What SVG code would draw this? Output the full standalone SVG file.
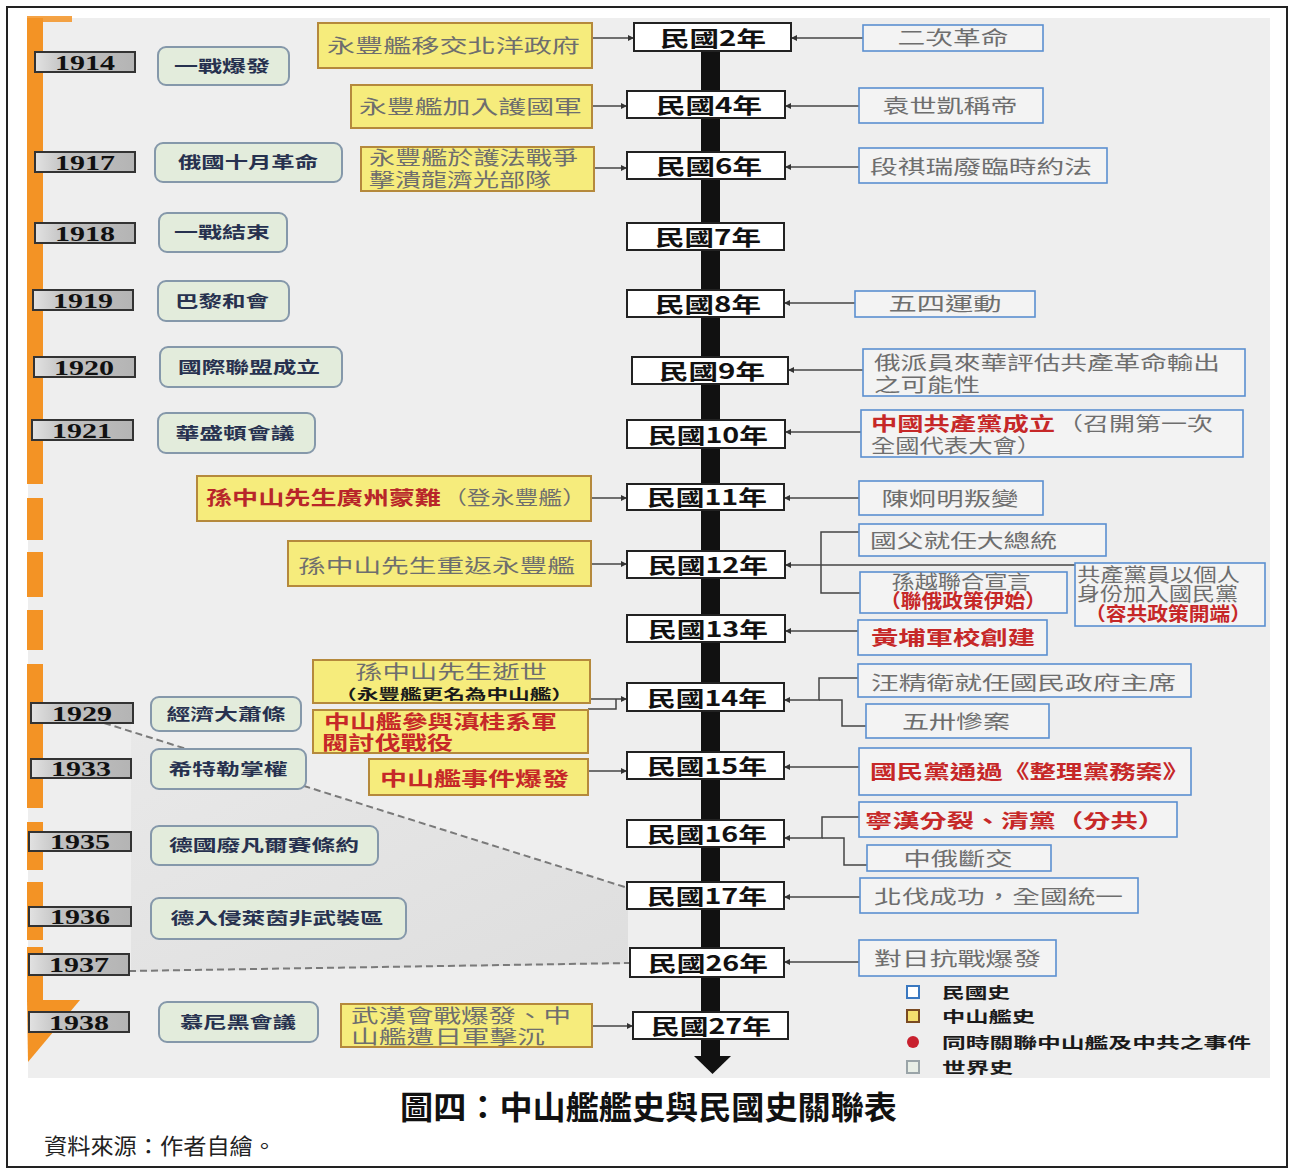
<svg xmlns="http://www.w3.org/2000/svg" width="1292" height="1170" viewBox="0 0 1292 1170">
<style>
.cjk{font-family:"Noto Sans CJK TC","Noto Sans CJK SC",sans-serif}
.yr{fill:url(#yg);stroke:#333;stroke-width:2}
.yrt{font-family:"Liberation Serif",serif;font-weight:bold;font-size:21px;fill:#111;text-anchor:middle}
.wb{fill:#e3ecdc;stroke:#8598aa;stroke-width:2}
.wt{font-family:"Noto Sans CJK TC","Noto Sans CJK SC",sans-serif;font-weight:bold;font-size:16px;fill:#27314f;text-anchor:middle}
.yb{fill:#f6ec7c;stroke:#b5893c;stroke-width:2}
.rb{fill:#f3f3f3;stroke:#5b8fd0;stroke-width:1.6}
.mb{fill:#fff;stroke:#222;stroke-width:2}
.mt{font-family:"Noto Sans CJK TC","Noto Sans CJK SC",sans-serif;font-weight:bold;font-size:21px;fill:#111;text-anchor:middle}
.t{font-family:"Noto Sans CJK TC","Noto Sans CJK SC",sans-serif;font-size:19px;fill:#6e6e6e}
.r{font-family:"Noto Sans CJK TC","Noto Sans CJK SC",sans-serif;font-size:19px;font-weight:bold;fill:#c62828}
.k{font-family:"Noto Sans CJK TC","Noto Sans CJK SC",sans-serif;font-weight:bold;fill:#1a1a1a}
.cn{stroke:#444;stroke-width:1.5;fill:none}
.ar{marker-end:url(#ah)}
.dash{stroke:#7a7a7a;stroke-width:2;stroke-dasharray:7 4;fill:none}
.or{fill:#f39325}
</style>
<defs>
<linearGradient id="yg" x1="0" y1="0" x2="1" y2="0">
<stop offset="0" stop-color="#e2e2e2"/><stop offset="0.3" stop-color="#c2c2c2"/><stop offset="1" stop-color="#b4b4b4"/>
</linearGradient>
<linearGradient id="sg" x1="0" y1="0" x2="1" y2="1">
<stop offset="0" stop-color="#e9e9e9"/><stop offset="1" stop-color="#dedede"/>
</linearGradient>
<marker id="ah" viewBox="0 0 6 6" refX="6" refY="3" markerWidth="6" markerHeight="6" markerUnits="userSpaceOnUse" orient="auto">
<path d="M0,0 L6,3 L0,6 z" fill="#333"/>
</marker>
</defs>

<rect x="0" y="0" width="1292" height="1170" fill="#fff"/>
<rect x="7" y="7" width="1280" height="1160" fill="none" stroke="#222" stroke-width="2"/>
<rect x="28" y="18" width="1242" height="1060" fill="#eeeeee"/>

<g id="shade">
<path d="M104,723 L628,888 L628,964 L131,972 L131,723 Z" fill="url(#sg)"/>
</g>

<g id="orange-timeline">
<rect class="or" x="27" y="16" width="45" height="6" opacity="0.85"/>
<rect class="or" x="27" y="18" width="16" height="466"/>
<rect class="or" x="27" y="498" width="16" height="42"/>
<rect class="or" x="27" y="552" width="16" height="45"/>
<rect class="or" x="27" y="610" width="16" height="40"/>
<rect class="or" x="27" y="664" width="16" height="144"/>
<rect class="or" x="27" y="822" width="16" height="48"/>
<rect class="or" x="27" y="882" width="16" height="58"/>
<rect class="or" x="27" y="947" width="16" height="55"/>
<polygon class="or" points="27,1000 80,1000 28,1062"/>
</g>

<g id="main-axis">
<rect x="701" y="40" width="19" height="1018" fill="#111"/>
<polygon points="694,1056 731,1056 712.5,1074" fill="#111"/>
</g>

<g id="connectors">
<path class="dash" d="M104,723 L628,888"/>
<path class="dash" d="M129,971 L630,963"/>
<path class="cn ar" d="M592,38 H634"/>
<path class="cn ar" d="M592,106 H627"/>
<path class="cn ar" d="M594,168 H627"/>
<path class="cn ar" d="M591,498 H627"/>
<path class="cn ar" d="M591,564 H627"/>
<path class="cn ar" d="M590,699 H627"/>
<path class="cn" d="M588,709 H616 V699"/>
<path class="cn ar" d="M588,771 H627"/>
<path class="cn ar" d="M592,1026 H633"/>
<path class="cn ar" d="M863,38 H791"/>
<path class="cn ar" d="M859,106 H785"/>
<path class="cn ar" d="M859,167 H785"/>
<path class="cn ar" d="M855,303 H784"/>
<path class="cn ar" d="M863,370 H788"/>
<path class="cn ar" d="M861,432 H785"/>
<path class="cn ar" d="M859,498 H784"/>
<path class="cn ar" d="M1075,565 H785"/>
<path class="cn" d="M859,532 H821 V593 H860"/>
<path class="cn ar" d="M858,631 H785"/>
<path class="cn ar" d="M858,678 H819 V700 H784"/>
<path class="cn" d="M866,726 H842 V700 H819"/>
<path class="cn ar" d="M859,767 H784"/>
<path class="cn ar" d="M859,817 H822 V838 H784"/>
<path class="cn" d="M867,865 H844 V838 H822"/>
<path class="cn ar" d="M860,897 H784"/>
<path class="cn ar" d="M859,962 H784"/>
</g>

<g id="y1914"><rect class="yr" x="35" y="52" width="100" height="20"/><text class="yrt" x="85" y="70" textLength="60" lengthAdjust="spacingAndGlyphs">1914</text></g>
<g id="y1917"><rect class="yr" x="35" y="152" width="100" height="20"/><text class="yrt" x="85" y="170" textLength="60" lengthAdjust="spacingAndGlyphs">1917</text></g>
<g id="y1918"><rect class="yr" x="35" y="223" width="100" height="20"/><text class="yrt" x="85" y="241" textLength="60" lengthAdjust="spacingAndGlyphs">1918</text></g>
<g id="y1919"><rect class="yr" x="33" y="290" width="100" height="20"/><text class="yrt" x="83" y="308" textLength="60" lengthAdjust="spacingAndGlyphs">1919</text></g>
<g id="y1920"><rect class="yr" x="34" y="357" width="101" height="20"/><text class="yrt" x="84" y="375" textLength="60" lengthAdjust="spacingAndGlyphs">1920</text></g>
<g id="y1921"><rect class="yr" x="32" y="420" width="101" height="20"/><text class="yrt" x="82" y="438" textLength="60" lengthAdjust="spacingAndGlyphs">1921</text></g>
<g id="y1929"><rect class="yr" x="31" y="703" width="102" height="20"/><text class="yrt" x="82" y="721" textLength="60" lengthAdjust="spacingAndGlyphs">1929</text></g>
<g id="y1933"><rect class="yr" x="31" y="759" width="100" height="19"/><text class="yrt" x="81" y="776" textLength="60" lengthAdjust="spacingAndGlyphs">1933</text></g>
<g id="y1935"><rect class="yr" x="29" y="832" width="102" height="19"/><text class="yrt" x="80" y="849" textLength="60" lengthAdjust="spacingAndGlyphs">1935</text></g>
<g id="y1936"><rect class="yr" x="29" y="907" width="102" height="19"/><text class="yrt" x="80" y="924" textLength="60" lengthAdjust="spacingAndGlyphs">1936</text></g>
<g id="y1937"><rect class="yr" x="29" y="954" width="100" height="21"/><text class="yrt" x="79" y="972" textLength="60" lengthAdjust="spacingAndGlyphs">1937</text></g>
<g id="y1938"><rect class="yr" x="29" y="1012" width="100" height="20"/><text class="yrt" x="79" y="1030" textLength="60" lengthAdjust="spacingAndGlyphs">1938</text></g>

<g id="w1"><rect class="wb" x="158" y="47" width="131" height="38" rx="8"/><text class="wt" x="222" y="72" textLength="96" lengthAdjust="spacingAndGlyphs">一戰爆發</text></g>
<g id="w2"><rect class="wb" x="155" y="143" width="187" height="39" rx="8"/><text class="wt" x="248" y="168" textLength="140" lengthAdjust="spacingAndGlyphs">俄國十月革命</text></g>
<g id="w3"><rect class="wb" x="159" y="213" width="128" height="39" rx="8"/><text class="wt" x="222" y="238" textLength="96" lengthAdjust="spacingAndGlyphs">一戰結束</text></g>
<g id="w4"><rect class="wb" x="158" y="281" width="131" height="40" rx="8"/><text class="wt" x="222" y="307" textLength="94" lengthAdjust="spacingAndGlyphs">巴黎和會</text></g>
<g id="w5"><rect class="wb" x="160" y="347" width="182" height="40" rx="8"/><text class="wt" x="249" y="373" textLength="142" lengthAdjust="spacingAndGlyphs">國際聯盟成立</text></g>
<g id="w6"><rect class="wb" x="158" y="413" width="157" height="40" rx="8"/><text class="wt" x="235" y="439" textLength="119" lengthAdjust="spacingAndGlyphs">華盛頓會議</text></g>
<g id="w7"><rect class="wb" x="151" y="697" width="150" height="34" rx="8"/><text class="wt" x="226" y="720" textLength="119" lengthAdjust="spacingAndGlyphs">經濟大蕭條</text></g>
<g id="w8"><rect class="wb" x="151" y="749" width="155" height="40" rx="8"/><text class="wt" x="228" y="775" textLength="119" lengthAdjust="spacingAndGlyphs">希特勒掌權</text></g>
<g id="w9"><rect class="wb" x="151" y="826" width="227" height="39" rx="8"/><text class="wt" x="264" y="851" textLength="190" lengthAdjust="spacingAndGlyphs">德國廢凡爾賽條約</text></g>
<g id="w10"><rect class="wb" x="151" y="898" width="255" height="41" rx="8"/><text class="wt" x="277" y="924" textLength="213" lengthAdjust="spacingAndGlyphs">德入侵萊茵非武裝區</text></g>
<g id="w11"><rect class="wb" x="159" y="1002" width="159" height="40" rx="8"/><text class="wt" x="238" y="1028" textLength="116" lengthAdjust="spacingAndGlyphs">慕尼黑會議</text></g>

<g id="s1"><rect class="yb" x="318" y="23" width="274" height="45"/><text class="t" x="327" y="53" font-size="20" textLength="253" lengthAdjust="spacingAndGlyphs">永豐艦移交北洋政府</text></g>
<g id="s2"><rect class="yb" x="351" y="85" width="241" height="43"/><text class="t" x="359" y="114" font-size="20" textLength="223" lengthAdjust="spacingAndGlyphs">永豐艦加入護國軍</text></g>
<g id="s3"><rect class="yb" x="361" y="147" width="233" height="44"/><text class="t" x="369" y="165" font-size="17" textLength="209" lengthAdjust="spacingAndGlyphs">永豐艦於護法戰爭</text><text class="t" x="369" y="187" font-size="17" textLength="182" lengthAdjust="spacingAndGlyphs">擊潰龍濟光部隊</text></g>
<g id="s4"><rect class="yb" x="197" y="476" width="394" height="45"/><text class="r" x="206" y="505" textLength="235" lengthAdjust="spacingAndGlyphs" style="fill:#b8262a">孫中山先生廣州蒙難</text><text class="t" x="443" y="505" textLength="143" lengthAdjust="spacingAndGlyphs">（登永豐艦）</text></g>
<g id="s5"><rect class="yb" x="288" y="541" width="303" height="45"/><text class="t" x="298" y="573" font-size="21" textLength="277" lengthAdjust="spacingAndGlyphs">孫中山先生重返永豐艦</text></g>
<g id="s6"><rect class="yb" x="313" y="660" width="277" height="43"/><text class="t" x="451" y="679" font-size="16" text-anchor="middle" textLength="192" lengthAdjust="spacingAndGlyphs">孫中山先生逝世</text><text class="k" x="454" y="699" font-size="14" text-anchor="middle" textLength="238" lengthAdjust="spacingAndGlyphs">（永豐艦更名為中山艦）</text></g>
<g id="s7"><rect class="yb" x="313" y="710" width="275" height="43"/><text class="r" x="324" y="729" font-size="16" textLength="233" lengthAdjust="spacingAndGlyphs">中山艦參與滇桂系軍</text><text class="r" x="322" y="750" font-size="16" textLength="131" lengthAdjust="spacingAndGlyphs">閥討伐戰役</text></g>
<g id="s8"><rect class="yb" x="369" y="759" width="219" height="36"/><text class="r" x="380" y="786" font-size="18" textLength="189" lengthAdjust="spacingAndGlyphs">中山艦事件爆發</text></g>
<g id="s9"><rect class="yb" x="341" y="1004" width="251" height="43"/><text class="t" x="351" y="1023" font-size="17" textLength="220" lengthAdjust="spacingAndGlyphs">武漢會戰爆發、中</text><text class="t" x="351" y="1044" font-size="17" textLength="194" lengthAdjust="spacingAndGlyphs">山艦遭日軍擊沉</text></g>

<g id="m2"><rect class="mb" x="634" y="23" width="157" height="28"/><text class="mt" x="713" y="46" textLength="106" lengthAdjust="spacingAndGlyphs">民國2年</text></g>
<g id="m4"><rect class="mb" x="627" y="91" width="158" height="27"/><text class="mt" x="709" y="113" textLength="106" lengthAdjust="spacingAndGlyphs">民國4年</text></g>
<g id="m6"><rect class="mb" x="627" y="152" width="158" height="27"/><text class="mt" x="709" y="174" textLength="106" lengthAdjust="spacingAndGlyphs">民國6年</text></g>
<g id="m7"><rect class="mb" x="627" y="223" width="157" height="27"/><text class="mt" x="708" y="245" textLength="106" lengthAdjust="spacingAndGlyphs">民國7年</text></g>
<g id="m8"><rect class="mb" x="627" y="290" width="157" height="27"/><text class="mt" x="708" y="312" textLength="106" lengthAdjust="spacingAndGlyphs">民國8年</text></g>
<g id="m9"><rect class="mb" x="632" y="357" width="156" height="27"/><text class="mt" x="712" y="379" textLength="106" lengthAdjust="spacingAndGlyphs">民國9年</text></g>
<g id="m10"><rect class="mb" x="627" y="420" width="158" height="28"/><text class="mt" x="708" y="443" textLength="120" lengthAdjust="spacingAndGlyphs">民國10年</text></g>
<g id="m11"><rect class="mb" x="627" y="484" width="157" height="26"/><text class="mt" x="707" y="505" textLength="120" lengthAdjust="spacingAndGlyphs">民國11年</text></g>
<g id="m12"><rect class="mb" x="627" y="551" width="158" height="27"/><text class="mt" x="708" y="573" textLength="120" lengthAdjust="spacingAndGlyphs">民國12年</text></g>
<g id="m13"><rect class="mb" x="627" y="615" width="158" height="27"/><text class="mt" x="708" y="637" textLength="120" lengthAdjust="spacingAndGlyphs">民國13年</text></g>
<g id="m14"><rect class="mb" x="627" y="683" width="157" height="28"/><text class="mt" x="707" y="706" textLength="120" lengthAdjust="spacingAndGlyphs">民國14年</text></g>
<g id="m15"><rect class="mb" x="627" y="752" width="157" height="27"/><text class="mt" x="707" y="774" textLength="120" lengthAdjust="spacingAndGlyphs">民國15年</text></g>
<g id="m16"><rect class="mb" x="627" y="820" width="157" height="27"/><text class="mt" x="707" y="842" textLength="120" lengthAdjust="spacingAndGlyphs">民國16年</text></g>
<g id="m17"><rect class="mb" x="627" y="882" width="157" height="27"/><text class="mt" x="707" y="904" textLength="120" lengthAdjust="spacingAndGlyphs">民國17年</text></g>
<g id="m26"><rect class="mb" x="630" y="948" width="154" height="29"/><text class="mt" x="708" y="971" textLength="120" lengthAdjust="spacingAndGlyphs">民國26年</text></g>
<g id="m27"><rect class="mb" x="633" y="1012" width="155" height="27"/><text class="mt" x="711" y="1034" textLength="120" lengthAdjust="spacingAndGlyphs">民國27年</text></g>

<g id="r1"><rect class="rb" x="863" y="25" width="180" height="26"/><text class="t" x="953" y="45" font-size="17" text-anchor="middle" textLength="111" lengthAdjust="spacingAndGlyphs">二次革命</text></g>
<g id="r2"><rect class="rb" x="859" y="88" width="184" height="35"/><text class="t" x="950" y="113" text-anchor="middle" textLength="135" lengthAdjust="spacingAndGlyphs">袁世凱稱帝</text></g>
<g id="r3"><rect class="rb" x="859" y="148" width="248" height="35"/><text class="t" x="870" y="174" textLength="222" lengthAdjust="spacingAndGlyphs">段祺瑞廢臨時約法</text></g>
<g id="r4"><rect class="rb" x="855" y="291" width="180" height="26"/><text class="t" x="945" y="311" font-size="17" text-anchor="middle" textLength="113" lengthAdjust="spacingAndGlyphs">五四運動</text></g>
<g id="r5"><rect class="rb" x="863" y="349" width="382" height="47"/><text class="t" x="874" y="370" font-size="18" textLength="346" lengthAdjust="spacingAndGlyphs">俄派員來華評估共產革命輸出</text><text class="t" x="874" y="392" font-size="18" textLength="106" lengthAdjust="spacingAndGlyphs">之可能性</text></g>
<g id="r6"><rect class="rb" x="861" y="410" width="382" height="47"/><text class="r" x="871" y="431" font-size="17" textLength="184" lengthAdjust="spacingAndGlyphs">中國共產黨成立</text><text class="t" x="1057" y="431" font-size="17" textLength="156" lengthAdjust="spacingAndGlyphs">（召開第一次</text><text class="t" x="871" y="453" font-size="17" textLength="170" lengthAdjust="spacingAndGlyphs">全國代表大會）</text></g>
<g id="r7"><rect class="rb" x="859" y="481" width="184" height="34"/><text class="t" x="950" y="506" text-anchor="middle" textLength="137" lengthAdjust="spacingAndGlyphs">陳炯明叛變</text></g>
<g id="r8"><rect class="rb" x="859" y="524" width="247" height="32"/><text class="t" x="870" y="548" textLength="187" lengthAdjust="spacingAndGlyphs">國父就任大總統</text></g>
<g id="r9"><rect class="rb" x="860" y="572" width="207" height="41"/><text class="t" x="961" y="589" font-size="15" text-anchor="middle" textLength="139" lengthAdjust="spacingAndGlyphs">孫越聯合宣言</text><text class="r" x="963" y="608" font-size="15" text-anchor="middle" textLength="166" lengthAdjust="spacingAndGlyphs">（聯俄政策伊始）</text></g>
<g id="r10"><rect class="rb" x="1075" y="563" width="190" height="63"/><text class="t" x="1077" y="582" font-size="15" textLength="163" lengthAdjust="spacingAndGlyphs">共產黨員以個人</text><text class="t" x="1077" y="601" font-size="15" textLength="161" lengthAdjust="spacingAndGlyphs">身份加入國民黨</text><text class="r" x="1085" y="621" font-size="15" textLength="166" lengthAdjust="spacingAndGlyphs">（容共政策開端）</text></g>
<g id="r11"><rect class="rb" x="858" y="620" width="189" height="35"/><text class="r" x="871" y="645" textLength="164" lengthAdjust="spacingAndGlyphs">黃埔軍校創建</text></g>
<g id="r12"><rect class="rb" x="858" y="664" width="333" height="33"/><text class="t" x="871" y="690" textLength="305" lengthAdjust="spacingAndGlyphs">汪精衛就任國民政府主席</text></g>
<g id="r13"><rect class="rb" x="866" y="704" width="183" height="34"/><text class="t" x="956" y="729" font-size="18" text-anchor="middle" textLength="108" lengthAdjust="spacingAndGlyphs">五卅慘案</text></g>
<g id="r14"><rect class="rb" x="859" y="748" width="332" height="47"/><text class="r" x="870" y="779" textLength="319" lengthAdjust="spacingAndGlyphs">國民黨通過《整理黨務案》</text></g>
<g id="r15"><rect class="rb" x="859" y="802" width="318" height="35"/><text class="r" x="865" y="828" font-size="18" textLength="300" lengthAdjust="spacingAndGlyphs">寧漢分裂、清黨（分共）</text></g>
<g id="r16"><rect class="rb" x="867" y="845" width="184" height="26"/><text class="t" x="958" y="866" font-size="17" text-anchor="middle" textLength="109" lengthAdjust="spacingAndGlyphs">中俄斷交</text></g>
<g id="r17"><rect class="rb" x="860" y="878" width="278" height="35"/><text class="t" x="874" y="904" textLength="249" lengthAdjust="spacingAndGlyphs">北伐成功，全國統一</text></g>
<g id="r18"><rect class="rb" x="859" y="940" width="197" height="36"/><text class="t" x="874" y="966" textLength="167" lengthAdjust="spacingAndGlyphs">對日抗戰爆發</text></g>

<g id="legend">
<rect x="907" y="986" width="12" height="12" fill="#fff" stroke="#3a78c0" stroke-width="2"/>
<text class="k" x="942" y="998" font-size="15" textLength="68" lengthAdjust="spacingAndGlyphs">民國史</text>
<rect x="907" y="1010" width="12" height="12" fill="#f5df6e" stroke="#7a4a22" stroke-width="2"/>
<text class="k" x="942" y="1022" font-size="15" textLength="93" lengthAdjust="spacingAndGlyphs">中山艦史</text>
<circle cx="913" cy="1042" r="6" fill="#c8202e"/>
<text class="k" x="942" y="1048" font-size="15" textLength="309" lengthAdjust="spacingAndGlyphs">同時關聯中山艦及中共之事件</text>
<rect x="907" y="1061" width="12" height="12" fill="#e8eee6" stroke="#9aa4a8" stroke-width="2"/>
<text class="k" x="942" y="1073" font-size="15" textLength="71" lengthAdjust="spacingAndGlyphs">世界史</text>
</g>

<g id="caption">
<text class="k" x="400" y="1119" font-size="32" textLength="497" lengthAdjust="spacingAndGlyphs" style="fill:#111">圖四：中山艦艦史與民國史關聯表</text>
<text class="cjk" x="44" y="1154" font-size="22" fill="#222" textLength="232" lengthAdjust="spacingAndGlyphs">資料來源：作者自繪。</text>
</g>
</svg>
